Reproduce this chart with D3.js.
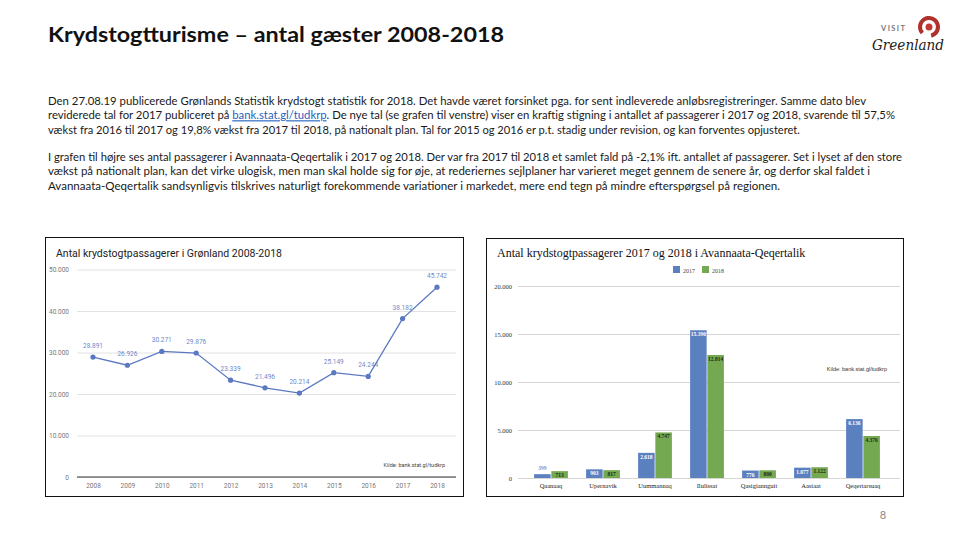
<!DOCTYPE html>
<html>
<head>
<meta charset="utf-8">
<script src="https://cdn.jsdelivr.net/npm/d3@7"></script>
<style>
  body { margin: 0; background: #fff; }
  svg { display: block; }
</style>
</head>
<body>
<svg id="page" width="960" height="540"></svg>
<script>
// line chart: Grønland 2008-2018
const years = ["2008", "2009", "2010", "2011", "2012", "2013", "2014", "2015", "2016", "2017", "2018"];
const passengers = [28891, 26926, 30271, 29876, 23339, 21496, 20214, 25149, 24244, 38182, 45742];
const lineTicks = [0, 10000, 20000, 30000, 40000, 50000];

// bar chart: Avannaata-Qeqertalik
const towns = ["Qaanaaq", "Upernavik", "Uummannaq", "Ilulissat", "Qasigiannguit", "Aasiaat", "Qeqertarsuaq"];
const series = ["2017", "2018"];
const pass2017 = [399, 903, 2618, 15390, 776, 1077, 6136];
const pass2018 = [713, 817, 4747, 12814, 800, 1122, 4376];
const barTicks = [0, 5000, 10000, 15000, 20000];

const para1 = [
  "Den 27.08.19 publicerede Grønlands Statistik krydstogt statistik for 2018. Det havde været forsinket pga. for sent indleverede anløbsregistreringer. Samme dato blev",
  ["reviderede tal for 2017 publiceret på ", "bank.stat.gl/tudkrp", ". De nye tal (se grafen til venstre) viser en kraftig stigning i antallet af passagerer i 2017 og 2018, svarende til 57,5%"],
  "vækst fra 2016 til 2017 og 19,8% vækst fra 2017 til 2018, på nationalt plan. Tal for 2015 og 2016 er p.t. stadig under revision, og kan forventes opjusteret."
];
const para2 = [
  "I grafen til højre ses antal passagerer i Avannaata-Qeqertalik i 2017 og 2018. Der var fra 2017 til 2018 et samlet fald på -2,1% ift. antallet af passagerer. Set i lyset af den store",
  "vækst på nationalt plan, kan det virke ulogisk, men man skal holde sig for øje, at rederiernes sejlplaner har varieret meget gennem de senere år, og derfor skal faldet i",
  "Avannaata-Qeqertalik sandsynligvis tilskrives naturligt forekommende variationer i markedet, mere end tegn på mindre efterspørgsel på regionen."
];

const dk = d3.formatLocale({ decimal: ",", thousands: ".", grouping: [3], currency: ["", ""] });
const fmt = dk.format(",d");

const svg = d3.select("#page");

// ---- header ----
svg.append("text")
  .attr("x", 48).attr("y", 42)
  .attr("font-family", "Lato, sans-serif").attr("font-weight", "bold")
  .attr("font-size", 20).attr("fill", "#111")
  .attr("textLength", 456).attr("lengthAdjust", "spacingAndGlyphs")
  .text("Krydstogtturisme – antal gæster 2008-2018");

// logo
const logo = svg.append("g");
logo.append("path")
  .attr("transform", "translate(929,27)")
  .attr("d", d3.arc().innerRadius(7).outerRadius(11).startAngle(-2.3).endAngle(2.9)())
  .attr("fill", "#b0302c");
logo.append("circle").attr("cx", 929).attr("cy", 27).attr("r", 3.5).attr("fill", "#c23b33");
logo.append("text")
  .attr("x", 881).attr("y", 31)
  .attr("font-family", "Lato, sans-serif").attr("font-weight", "bold")
  .attr("font-size", 7.5).attr("fill", "#777")
  .attr("textLength", 24).attr("lengthAdjust", "spacing")
  .text("VISIT");
logo.append("text")
  .attr("x", 872).attr("y", 50)
  .attr("font-family", "DejaVu Serif, serif").attr("font-style", "italic")
  .attr("font-size", 14).attr("fill", "#222")
  .attr("textLength", 72).attr("lengthAdjust", "spacingAndGlyphs")
  .text("Greenland");

// ---- body text ----
function writeLines(lines, y0, ends) {
  lines.forEach((line, i) => {
    const t = svg.append("text")
      .attr("x", 48).attr("y", y0 + i * 14.3)
      .attr("font-family", "Lato, sans-serif").attr("font-size", 11)
      .attr("fill", "#1a1a1a")
      .attr("textLength", ends[i] - 48).attr("lengthAdjust", "spacingAndGlyphs");
    if (Array.isArray(line)) {
      t.append("tspan").text(line[0]);
      t.append("tspan").attr("fill", "#1f5fbf").attr("text-decoration", "underline").text(line[1]);
      t.append("tspan").text(line[2]);
    } else {
      t.text(line);
    }
  });
}
writeLines(para1, 105, [866, 895, 800]);
writeLines(para2, 161, [902, 870, 780]);

// page number
svg.append("text")
  .attr("x", 883).attr("y", 519).attr("text-anchor", "middle")
  .attr("font-family", "Lato, sans-serif").attr("font-size", 11).attr("fill", "#888")
  .text("8");

// ---- left chart: line ----
svg.append("rect")
  .attr("x", 45.5).attr("y", 237.5).attr("width", 418).attr("height", 259)
  .attr("fill", "#fff").attr("stroke", "#111").attr("stroke-width", 1);

svg.append("text")
  .attr("x", 56).attr("y", 257)
  .attr("font-family", "Roboto, sans-serif").attr("font-size", 10.5).attr("fill", "#222")
  .text("Antal krydstogtpassagerer i Grønland 2008-2018");

const xL = d3.scalePoint().domain(years).range([93, 437]);
const yL = d3.scaleLinear().domain([0, 50000]).range([477, 269.5]);

const gyL = svg.append("g")
  .attr("transform", "translate(77,0)")
  .call(d3.axisLeft(yL).tickValues(lineTicks).tickSize(-(456 - 77)).tickPadding(8).tickFormat(fmt));
gyL.select(".domain").remove();
gyL.selectAll(".tick line").attr("stroke", "#e2e2e2");
gyL.selectAll(".tick text").attr("font-family", "Roboto, sans-serif").attr("font-size", 6.5).attr("fill", "#777");

const gxL = svg.append("g")
  .attr("transform", "translate(0,477)")
  .call(d3.axisBottom(xL).tickSize(0).tickPadding(6));
gxL.select(".domain").attr("d", "M77,0H456").attr("stroke", "#333").attr("stroke-width", 1.2);
gxL.selectAll(".tick text").attr("font-family", "Roboto, sans-serif").attr("font-size", 6.5).attr("fill", "#777");

const lineColor = "#5b78c2";
svg.append("path")
  .datum(passengers)
  .attr("fill", "none").attr("stroke", lineColor).attr("stroke-width", 1.3)
  .attr("d", d3.line().x((d, i) => xL(years[i])).y(d => yL(d)));

svg.selectAll("circle.pt")
  .data(passengers).enter().append("circle")
  .attr("class", "pt")
  .attr("cx", (d, i) => xL(years[i])).attr("cy", d => yL(d))
  .attr("r", 2.6).attr("fill", lineColor);

svg.selectAll("text.ptlab")
  .data(passengers).enter().append("text")
  .attr("class", "ptlab")
  .attr("x", (d, i) => xL(years[i]))
  .attr("y", d => yL(d) - 9)
  .attr("text-anchor", "middle")
  .attr("font-family", "Roboto, sans-serif").attr("font-size", 6.5).attr("fill", "#6f88c8")
  .text(d => fmt(d));

svg.append("text")
  .attr("x", 445).attr("y", 467).attr("text-anchor", "end")
  .attr("font-family", "Roboto, sans-serif").attr("font-size", 5.5).attr("fill", "#444")
  .text("Kilde: bank.stat.gl/tudkrp");

// ---- right chart: bars ----
svg.append("rect")
  .attr("x", 486.5).attr("y", 238.5).attr("width", 417).attr("height", 258)
  .attr("fill", "#fff").attr("stroke", "#111").attr("stroke-width", 1);

svg.append("text")
  .attr("x", 497).attr("y", 257)
  .attr("font-family", "Liberation Serif, serif").attr("font-size", 12).attr("fill", "#111")
  .text("Antal krydstogtpassagerer 2017 og 2018 i Avannaata-Qeqertalik");

const colors = { "2017": "#5b80c0", "2018": "#74a851" };

const legend = svg.append("g").selectAll("g")
  .data(series).enter().append("g")
  .attr("transform", (d, i) => `translate(${673 + i * 29},266)`);
legend.append("rect").attr("width", 7).attr("height", 7).attr("fill", d => colors[d]);
legend.append("text")
  .attr("x", 10).attr("y", 6.5)
  .attr("font-family", "Liberation Serif, serif").attr("font-size", 6).attr("fill", "#444")
  .text(d => d);

const xR = d3.scaleBand().domain(towns).range([525, 889]).paddingInner(0.35).paddingOuter(0.175);
const xS = d3.scaleBand().domain(series).range([0, xR.bandwidth()]).paddingInner(0.04);
const yR = d3.scaleLinear().domain([0, 20000]).range([478, 286]);

const gyR = svg.append("g")
  .attr("transform", "translate(518,0)")
  .call(d3.axisLeft(yR).tickValues(barTicks).tickSize(-(900 - 518)).tickPadding(6).tickFormat(fmt));
gyR.select(".domain").remove();
gyR.selectAll(".tick line").attr("stroke", "#d6d6d6");
gyR.selectAll(".tick text").attr("font-family", "Liberation Serif, serif").attr("font-size", 6.5).attr("fill", "#333");

const gxR = svg.append("g")
  .attr("transform", "translate(0,478)")
  .call(d3.axisBottom(xR).tickSize(0).tickPadding(5));
gxR.select(".domain").remove();
gxR.selectAll(".tick text").attr("font-family", "Liberation Serif, serif").attr("font-size", 6.5).attr("fill", "#222");

const barData = [];
towns.forEach((t, i) => {
  barData.push({ town: t, year: "2017", value: pass2017[i] });
  barData.push({ town: t, year: "2018", value: pass2018[i] });
});

svg.selectAll("rect.bar")
  .data(barData).enter().append("rect")
  .attr("class", "bar")
  .attr("x", d => xR(d.town) + xS(d.year))
  .attr("y", d => yR(d.value))
  .attr("width", xS.bandwidth())
  .attr("height", d => yR(0) - yR(d.value))
  .attr("fill", d => colors[d.year]);

svg.selectAll("text.barlab")
  .data(barData).enter().append("text")
  .attr("class", "barlab")
  .attr("x", d => xR(d.town) + xS(d.year) + xS.bandwidth() / 2)
  .attr("y", d => (yR(0) - yR(d.value) < 6) ? yR(d.value) - 4 : yR(d.value) + 6)
  .attr("text-anchor", "middle")
  .attr("font-family", "Liberation Serif, serif").attr("font-size", 5.5).attr("font-weight", "bold")
  .attr("fill", d => (yR(0) - yR(d.value) < 6) ? "#7a96cc" : (d.year === "2017" ? "#fff" : "#1d2a12"))
  .text(d => fmt(d.value));

svg.append("text")
  .attr("x", 887).attr("y", 371).attr("text-anchor", "end")
  .attr("font-family", "Liberation Sans, sans-serif").attr("font-size", 5.5).attr("fill", "#333")
  .text("Kilde: bank.stat.gl/tudkrp");
</script>
</body>
</html>
